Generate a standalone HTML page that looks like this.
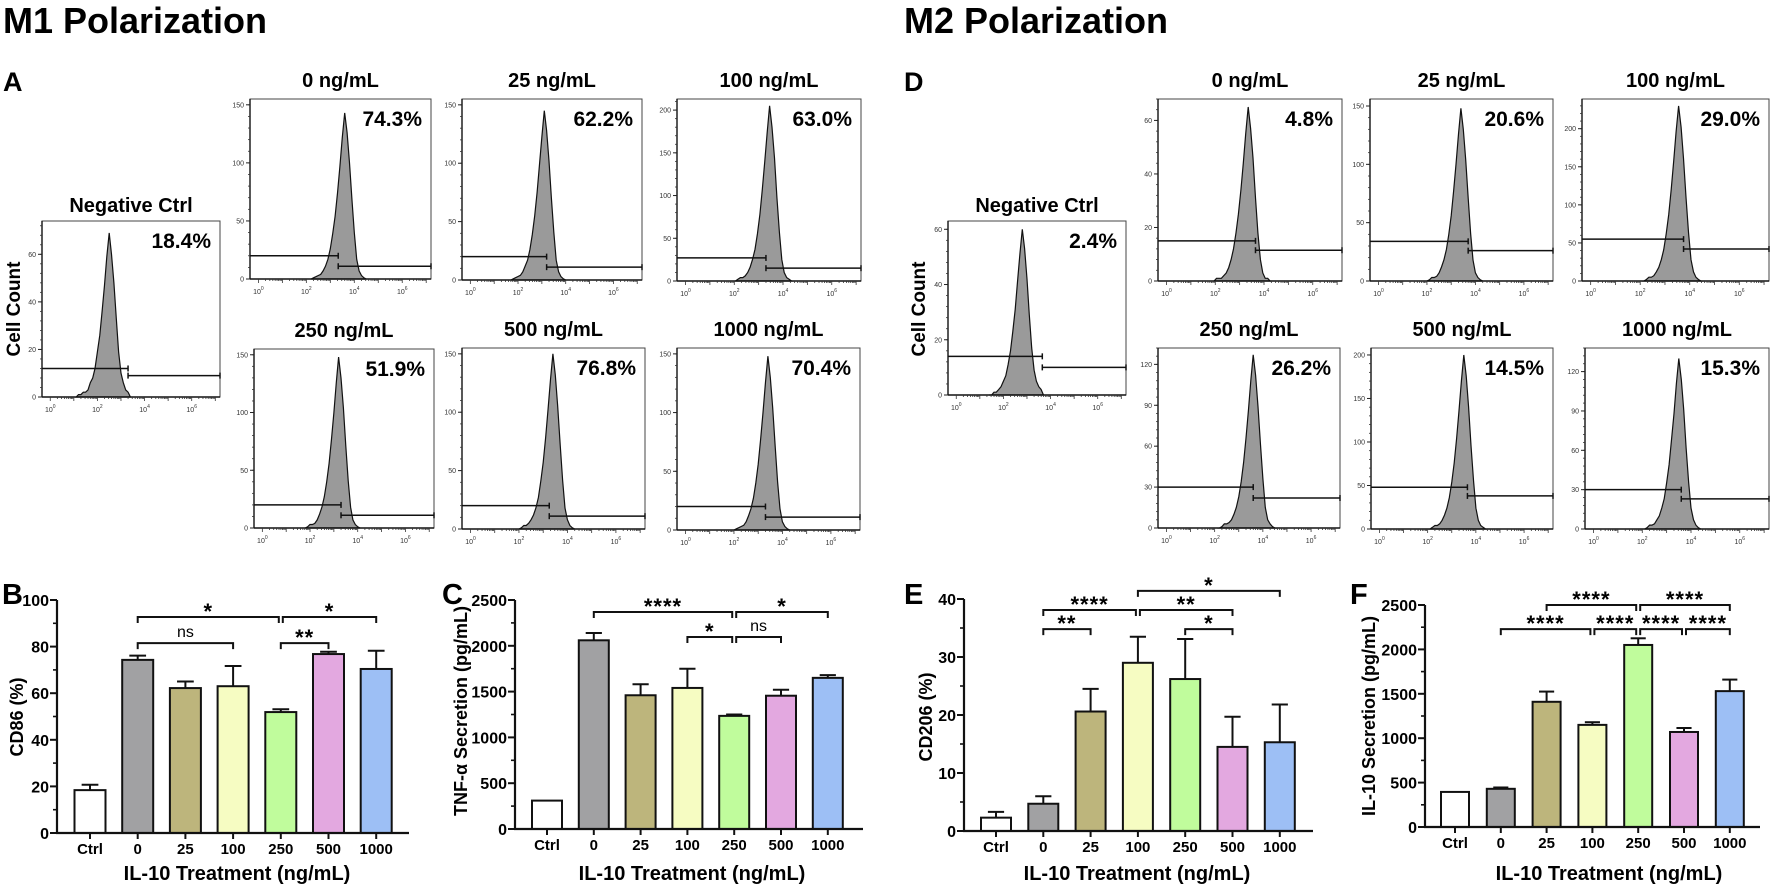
<!DOCTYPE html>
<html><head><meta charset="utf-8">
<style>
html,body{margin:0;padding:0;background:#fff;}
svg{display:block;font-family:"Liberation Sans",Arial,sans-serif;}
</style></head>
<body>
<svg id="fig" xmlns="http://www.w3.org/2000/svg" width="1772" height="887" viewBox="0 0 1772 887">
<rect width="1772" height="887" fill="#fff"/>
<text x="3" y="33" font-size="36" font-weight="bold">M1 Polarization</text>
<text x="904" y="33" font-size="36" font-weight="bold">M2 Polarization</text>
<text x="3" y="91" font-size="27" font-weight="bold">A</text>
<text x="904" y="91" font-size="27" font-weight="bold">D</text>
<text transform="translate(20,309) rotate(-90)" text-anchor="middle" font-size="19" font-weight="bold">Cell Count</text>
<text transform="translate(925,309) rotate(-90)" text-anchor="middle" font-size="19" font-weight="bold">Cell Count</text>
<text x="2" y="604" font-size="29" font-weight="bold">B</text>
<text x="442" y="604" font-size="29" font-weight="bold">C</text>
<text x="904" y="604" font-size="29" font-weight="bold">E</text>
<text x="1350" y="604" font-size="29" font-weight="bold">F</text>
</svg>
<script>
// ---------- Histogram data ----------
const histTitles = ["Negative Ctrl","0 ng/mL","25 ng/mL","100 ng/mL","250 ng/mL","500 ng/mL","1000 ng/mL",
                    "Negative Ctrl","0 ng/mL","25 ng/mL","100 ng/mL","250 ng/mL","500 ng/mL","1000 ng/mL"];
const histPercents = ["18.4%","74.3%","62.2%","63.0%","51.9%","76.8%","70.4%",
                      "2.4%","4.8%","20.6%","29.0%","26.2%","14.5%","15.3%"];
const histYMax = [74,155,155,213,155,155,155, 63,68,156,239,132,208,138];
const histYTicks = [[0,20,40,60],[0,50,100,150],[0,50,100,150],[0,50,100,150,200],[0,50,100,150],[0,50,100,150],[0,50,100,150],
                    [0,20,40,60],[0,20,40,60],[0,50,100,150],[0,50,100,150,200],[0,30,60,90,120],[0,50,100,150,200],[0,30,60,90,120]];
const histStartLog = [1.2,2.3,1.8,2.15,1.9,2.1,2.1, 1.5,2.05,2.1,2.25,2.3,2.2,2.2];
const histCounts = [
 [1,1,2,2,3,6,8,12,19,26,36,47,59,69,60,48,33,19,10,6,3,2],
 [1,2,3,4,7,11,17,26,39,54,74,97,122,143,126,100,69,40,17,7,3,1],
 [1,2,3,4,7,12,17,26,39,55,75,99,123,145,128,102,70,41,17,7,3,1],
 [2,4,4,6,10,16,25,37,55,78,107,139,174,205,180,144,98,57,25,10,4,2],
 [1,3,3,4,7,12,18,27,40,56,77,100,126,148,130,104,71,41,18,7,3,1],
 [1,3,3,5,8,12,18,27,41,57,78,102,128,150,132,105,72,42,18,8,3,1],
 [1,2,3,4,7,12,18,27,40,56,77,100,126,148,130,104,71,41,18,7,3,1],
 [0,1,1,2,3,5,7,11,16,23,31,41,51,60,53,42,29,17,9,5,3,2],
 [1,1,1,2,3,5,8,12,18,25,34,44,55,65,57,46,31,18,8,3,1,1],
 [1,3,3,4,7,12,18,27,40,56,77,100,126,148,130,104,71,41,18,7,3,1],
 [2,5,5,7,12,18,28,41,62,87,120,156,196,230,202,161,110,64,28,12,5,2],
 [1,3,3,4,6,10,15,23,34,48,66,86,108,127,112,89,61,36,15,6,3,1],
 [2,4,4,6,10,16,24,36,54,76,104,136,170,200,176,140,96,56,24,10,4,2],
 [1,3,3,4,7,10,16,23,35,49,68,88,111,130,114,91,62,36,16,7,3,1]];
const histGateLog = [3.3,3.33,3.2,3.3,3.3,3.25,3.3, 3.65,3.65,3.7,3.75,3.6,3.65,3.6];
const histGateLeft = [12,20,20,27,20,20,20, 14,15,34,55,30,48,30];
const histGateRight = [9,11,11,15,11,11,11, 10,11.5,26,42,22,38,23];
const histXTickLogs = [0,2,4,6];

// layout (positions, not data)
const histBoxes = [[42,221,220,397],[250,99,431,279],[462,99,642,280],[677,99,861,281],[254,349,434,528],[462,348,645,529],[677,348,860,530],
                   [948,221,1126,395],[1158,99,1342,281],[1370,99,1553,281],[1582,99,1769,281],[1158,348,1340,528],[1371,348,1553,529],[1585,348,1769,529]];
const histNames = ["m1-neg-ctrl","m1-0","m1-25","m1-100","m1-250","m1-500","m1-1000","m2-neg-ctrl","m2-0","m2-25","m2-100","m2-250","m2-500","m2-1000"];

// ---------- Bar chart data ----------
const categories = ["Ctrl","0","25","100","250","500","1000"];
const barColors = ["#ffffff","#a1a1a3","#bdb57c","#f6fcc2","#c0fc9c","#e3a8e0","#9dbff5"];
const cd86Values = [18.4,74.3,62.2,63.0,51.9,76.8,70.4];
const cd86Errors = [2.3,1.8,2.8,8.7,1.2,1.0,7.8];
const tnfValues = [310,2060,1460,1540,1235,1455,1650];
const tnfErrors = [0,80,120,210,15,65,30];
const cd206Values = [2.3,4.7,20.6,29.0,26.2,14.5,15.3];
const cd206Errors = [1.0,1.3,3.9,4.5,6.9,5.2,6.5];
const il10Values = [395,430,1410,1150,2050,1070,1530];
const il10Errors = [0,15,115,30,75,45,130];
const bTicks = [0,20,40,60,80,100];
const cTicks = [0,500,1000,1500,2000,2500];
const eTicks = [0,10,20,30,40];
const fTicks = [0,500,1000,1500,2000,2500];
// significance: [from index, to index, y value, label]
const bSig = [[1,4,92.7,"*"],[4,6,92.7,"*"],[1,3,81.5,"ns"],[4,5,81.5,"**"]];
const cSig = [[1,4,2369,"****"],[4,6,2369,"*"],[3,4,2096,"*"],[4,5,2096,"ns"]];
const eSig = [[3,6,41.4,"*"],[1,3,38.1,"****"],[3,5,38.1,"**"],[1,2,34.8,"**"],[4,5,34.8,"*"]];
const fSig = [[2,4,2500,"****"],[4,6,2500,"****"],[1,3,2228,"****"],[3,4,2228,"****"],[4,5,2228,"****"],[5,6,2228,"****"]];

const NS = "http://www.w3.org/2000/svg";
const svg = document.getElementById("fig");
function mk(tag, attrs, parent){
  const e = document.createElementNS(NS, tag);
  for (const k in attrs) e.setAttribute(k, attrs[k]);
  (parent||svg).appendChild(e);
  return e;
}

// ---------- draw histograms ----------
for (let p = 0; p < histBoxes.length; p++) {
  const [x0,y0,x1,y1] = histBoxes[p];
  const g = mk("g", {});
  
  
  const logMin = -0.35, logMax = 7.2;
  const xs = l => x0 + (l - logMin) / (logMax - logMin) * (x1 - x0);
  const ys = c => y1 - c / histYMax[p] * (y1 - y0);
  const counts = histCounts[p];
  let d = "M" + xs(histStartLog[p] - 0.1) + "," + y1;
  for (let i = 0; i < counts.length; i++) {
    const l = histStartLog[p] + i * 0.1;
    d += " L" + xs(l).toFixed(1) + "," + ys(counts[i]).toFixed(1);
  }
  d += " L" + xs(histStartLog[p] + counts.length * 0.1) + "," + y1 + " Z";
  const hp = mk("path", {d: d, fill: "#9a9a9a", stroke: "#111", "stroke-width": 1.2}, g);
  
  
  const bx = mk("rect", {x: x0, y: y0, width: x1 - x0, height: y1 - y0, fill: "none", stroke: "#444", "stroke-width": 1}, g);
  
  
  mk("line", {x1: x0, y1: y1, x2: x1, y2: y1, stroke: "#111", "stroke-width": 1.6}, g);
  mk("line", {x1: x0, y1: y0, x2: x0, y2: y1, stroke: "#111", "stroke-width": 1.4}, g);
  const yt = histYTicks[p];
  const stepV = yt[1] - yt[0];
  for (let v = 0; v <= histYMax[p]; v += stepV / 5) {
    const yy = ys(v);
    mk("line", {x1: x0 - 2, y1: yy, x2: x0, y2: yy, stroke: "#333", "stroke-width": 0.8}, g);
  }
  yt.forEach(v => {
    const yy = ys(v);
    mk("line", {x1: x0 - 4, y1: yy, x2: x0, y2: yy, stroke: "#222", "stroke-width": 1}, g);
    const t = mk("text", {x: x0 - 6, y: yy + 2.5, "text-anchor": "end", "font-size": 7, fill: "#333"}, g);
    t.textContent = v;
    
    
  });
  for (let dcd = 0; dcd <= 7; dcd++) {
    for (let m = 1; m < 10; m++) {
      const l = dcd + Math.log10(m);
      if (l > logMax) continue;
      mk("line", {x1: xs(l), y1: y1, x2: xs(l), y2: y1 + (m === 1 ? 4 : 2), stroke: "#333", "stroke-width": 0.8}, g);
    }
  }
  histXTickLogs.forEach(l => {
    const t = mk("text", {x: xs(l), y: y1 + 15, "text-anchor": "middle", "font-size": 7, fill: "#333"}, g);
    t.textContent = "10";
    
    
    const s = mk("tspan", {dy: -4, "font-size": 5}, t);
    s.textContent = l;
  });
  const gx = xs(histGateLog[p]);
  const gl = ys(histGateLeft[p]), gr = ys(histGateRight[p]);
  const gate = mk("g", {stroke: "#111", "stroke-width": 1.5, fill: "none"}, g);
  
  
  mk("line", {x1: x0, y1: gl, x2: gx, y2: gl}, gate);
  mk("line", {x1: gx, y1: gl - 3, x2: gx, y2: gl + 3}, gate);
  mk("line", {x1: gx, y1: gr, x2: x1, y2: gr}, gate);
  mk("line", {x1: gx, y1: gr - 3, x2: gx, y2: gr + 3}, gate);
  mk("line", {x1: x1, y1: gr - 3, x2: x1, y2: gr + 3}, gate);
  const isNeg = (p === 0 || p === 7);
  const tt = mk("text", {x: (x0 + x1) / 2, y: y0 - (isNeg ? 9 : 12), "text-anchor": "middle", "font-size": 20, "font-weight": "bold"}, g);
  tt.textContent = histTitles[p];
  
  
  const pt = mk("text", {x: x1 - 9, y: y0 + 27, "text-anchor": "end", "font-size": 21, "font-weight": "bold"}, g);
  pt.textContent = histPercents[p];
  
  
}

// ---------- draw bar charts ----------
function barChart(cfg) {
  const g = mk("g", {});
  
  
  const ys = v => cfg.bottom - v / cfg.yMax * (cfg.bottom - cfg.top);
  const xc = i => cfg.start + i * cfg.spacing;
  cfg.values.forEach((v, i) => {
    const e = cfg.errors[i];
    if (e > 0) {
      mk("line", {x1: xc(i), y1: ys(v), x2: xc(i), y2: ys(v + e), stroke: "#111", "stroke-width": 2}, g);
      mk("line", {x1: xc(i) - cfg.width * 0.27, y1: ys(v + e), x2: xc(i) + cfg.width * 0.27, y2: ys(v + e), stroke: "#111", "stroke-width": 2}, g);
    }
    const r = mk("rect", {x: xc(i) - cfg.width / 2, y: ys(v), width: cfg.width, height: cfg.bottom - ys(v), fill: barColors[i], stroke: "#111", "stroke-width": 2}, g);
    
    
  });
  mk("line", {x1: cfg.axis, y1: cfg.top, x2: cfg.axis, y2: cfg.bottom + 1, stroke: "#111", "stroke-width": 2.2}, g);
  mk("line", {x1: cfg.axis - 1, y1: cfg.bottom, x2: cfg.right, y2: cfg.bottom, stroke: "#111", "stroke-width": 2.2}, g);
  const st = cfg.ticks[1] - cfg.ticks[0];
  for (let v = st / 2; v < cfg.yMax; v += st) {
    mk("line", {x1: cfg.axis - 4, y1: ys(v), x2: cfg.axis, y2: ys(v), stroke: "#111", "stroke-width": 1.6}, g);
  }
  cfg.ticks.forEach(v => {
    mk("line", {x1: cfg.axis - 7, y1: ys(v), x2: cfg.axis, y2: ys(v), stroke: "#111", "stroke-width": 2}, g);
    const t = mk("text", {x: cfg.axis - 8, y: ys(v) + 6, "text-anchor": "end", "font-size": 16, "font-weight": "bold"}, g);
    t.textContent = v;
    
    
  });
  categories.forEach((c, i) => {
    mk("line", {x1: xc(i), y1: cfg.bottom, x2: xc(i), y2: cfg.bottom + 6, stroke: "#111", "stroke-width": 2}, g);
    const t = mk("text", {x: xc(i), y: cfg.xLabelY, "text-anchor": "middle", "font-size": 15, "font-weight": "bold"}, g);
    t.textContent = c;
    
    
  });
  const xt = mk("text", {x: cfg.xTitleX, y: 880, "text-anchor": "middle", "font-size": 20, "font-weight": "bold"}, g);
  xt.textContent = "IL-10 Treatment (ng/mL)";
  
  
  const yt = mk("text", {transform: "translate(" + cfg.yTitleX + "," + cfg.yTitleY + ") rotate(-90)", "text-anchor": "middle", "font-size": 18, "font-weight": "bold"}, g);
  yt.textContent = cfg.yTitle;
  
  
  cfg.sig.forEach(s => {
    const [a, b, v, lab] = s;
    const yy = ys(v);
    const xa = xc(a) + (a > 0 && cfg.sig.some(o => o[1] === a && o[2] === v) ? 2 : 0);
    const xb = xc(b) - (cfg.sig.some(o => o[0] === b && o[2] === v) ? 2 : 0);
    const br = mk("path", {d: "M" + xa + "," + (yy + 6) + " L" + xa + "," + yy + " L" + xb + "," + yy + " L" + xb + "," + (yy + 6), fill: "none", stroke: "#111", "stroke-width": 2}, g);
    
    
    const isNs = lab === "ns";
    const t = mk("text", {x: (xa + xb) / 2, y: yy - (isNs ? 6 : -2), "text-anchor": "middle", "font-size": isNs ? 16 : 22, "font-weight": isNs ? "normal" : "bold", "letter-spacing": isNs ? 0 : 1}, g);
    t.textContent = lab;
    
    
  });
}
barChart({name: "cd86-bar-chart", values: cd86Values, errors: cd86Errors, ticks: bTicks, yMax: 100, sig: bSig,
  axis: 57, top: 600, bottom: 833, right: 409, start: 90, spacing: 47.7, width: 31, xLabelY: 854, xTitleX: 237, yTitle: "CD86 (%)", yTitleX: 23, yTitleY: 717});
barChart({name: "tnf-bar-chart", values: tnfValues, errors: tnfErrors, ticks: cTicks, yMax: 2500, sig: cSig,
  axis: 515, top: 600, bottom: 829, right: 863, start: 547, spacing: 46.8, width: 30, xLabelY: 850, xTitleX: 692, yTitle: "TNF-α Secretion (pg/mL)", yTitleX: 467, yTitleY: 711});
barChart({name: "cd206-bar-chart", values: cd206Values, errors: cd206Errors, ticks: eTicks, yMax: 40, sig: eSig,
  axis: 964, top: 599, bottom: 831, right: 1313, start: 996, spacing: 47.3, width: 30, xLabelY: 852, xTitleX: 1137, yTitle: "CD206 (%)", yTitleX: 932, yTitleY: 717});
barChart({name: "il10-bar-chart", values: il10Values, errors: il10Errors, ticks: fTicks, yMax: 2500, sig: fSig,
  axis: 1425, top: 605, bottom: 827, right: 1760, start: 1455, spacing: 45.8, width: 28, xLabelY: 848, xTitleX: 1609, yTitle: "IL-10 Secretion (pg/mL)", yTitleX: 1375, yTitleY: 716});
</script>
</body></html>
